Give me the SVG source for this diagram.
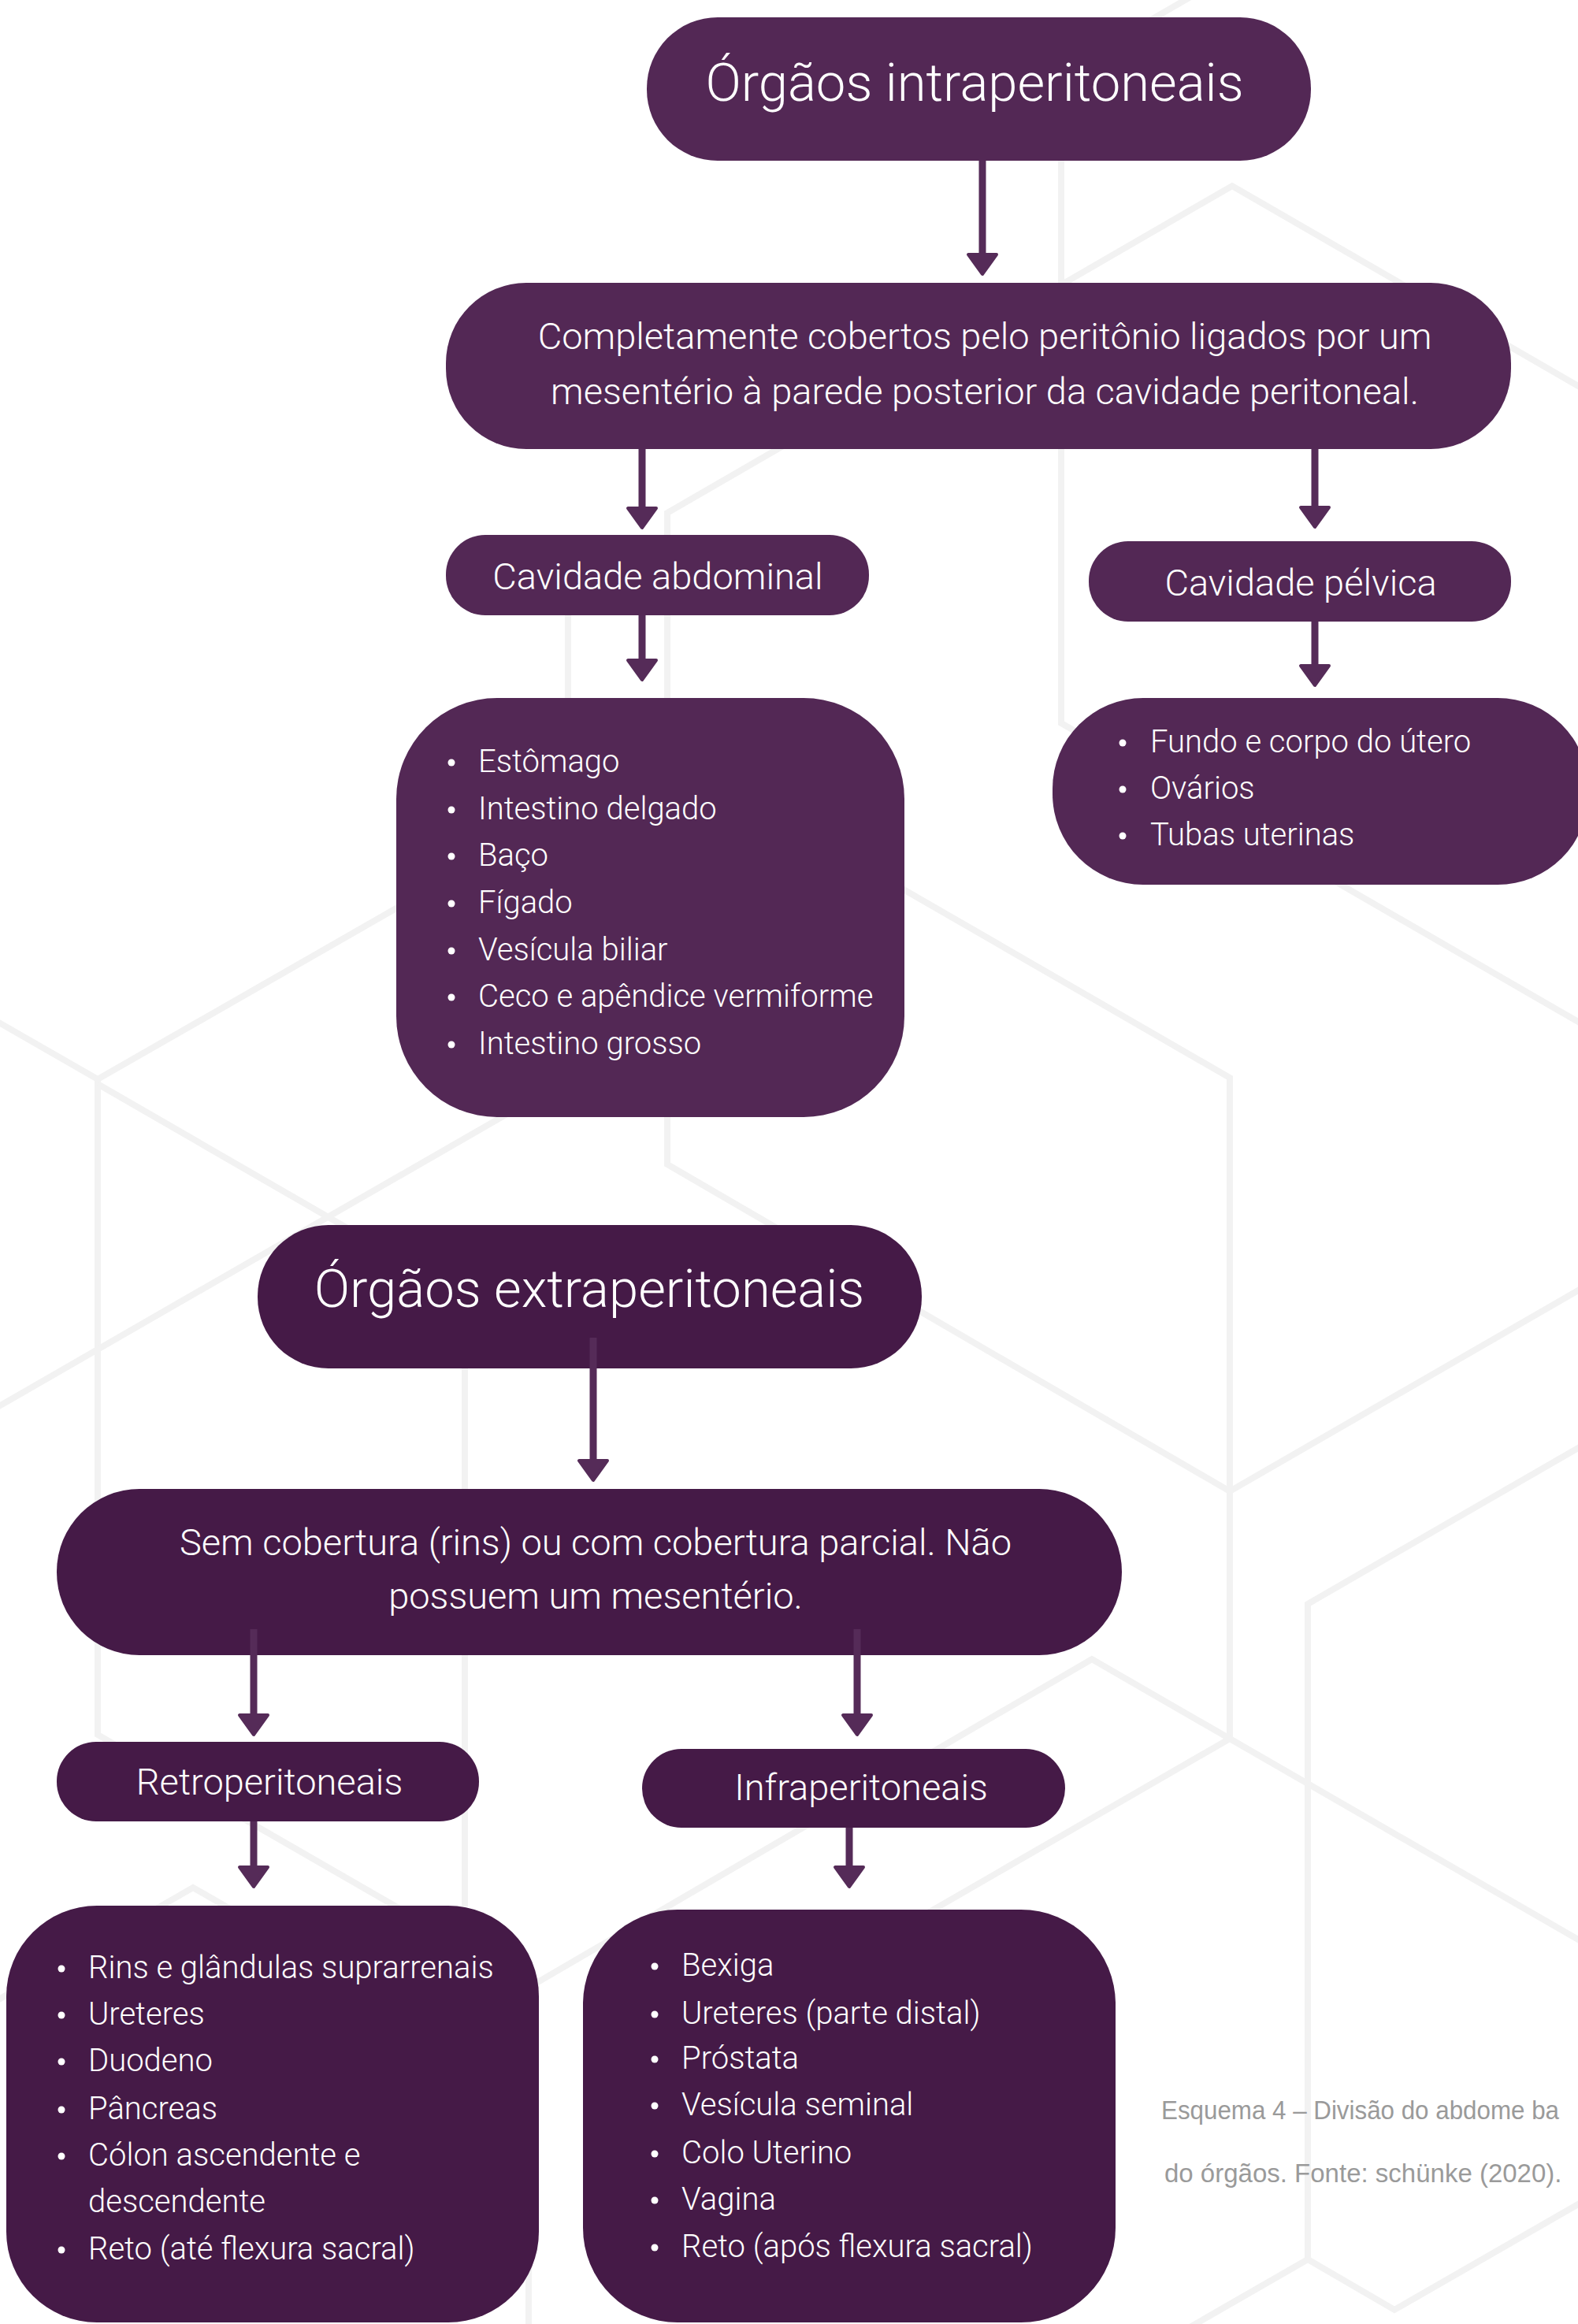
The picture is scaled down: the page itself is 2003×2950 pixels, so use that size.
<svg xmlns="http://www.w3.org/2000/svg" width="2003" height="2950" viewBox="0 0 2003 2950">
<defs>
<style>
.bg{fill:none;stroke:#f2f2f2;stroke-width:8}
.n1{fill:#532855}
.n2{fill:#451a47}
.t{font-family:Roboto,"Liberation Sans",sans-serif;font-weight:300;fill:#ffffff}
.title{font-size:67px}
.h{font-size:47px}
.li{font-size:40px}
.c{text-anchor:middle}
.b{fill:#ffffff}
.conn{fill:none;stroke:#552b58;stroke-width:9}
.cap{font-family:"Liberation Sans",Arial,sans-serif;font-size:33px;fill:#9a9a9a}
</style>
<marker id="ah" markerUnits="userSpaceOnUse" viewBox="-5 -25 40 50" markerWidth="40" markerHeight="50" refX="0" refY="0" orient="auto">
<path d="M0,-18 L25,0 L0,18 Z" fill="#552b58" stroke="#552b58" stroke-width="4" stroke-linejoin="round"/>
</marker>
</defs>
<rect x="0" y="0" width="2003" height="2950" fill="#ffffff"/>
<g id="background">
<polyline class="bg" points="1513,-5 1347,91 1347,918 2010,1301"/>
<polyline class="bg" points="2010,494 1564,236 847,651 847,1478 1561,1893 2010,1634"/>
<polyline class="bg" points="-10,1293 124,1370 847,956 1561,1368 1561,2207"/>
<polyline class="bg" points="721,700 721,1027"/>
<polyline class="bg" points="124,1370 124,2202 676,2520 1386,2106 1561,2207 2010,2466"/>
<polyline class="bg" points="124,1376 590,1645 590,2420"/>
<polyline class="bg" points="-10,1790 847,1297"/>
<polyline class="bg" points="1561,2207 1100,2473"/>
<polyline class="bg" points="2010,1834 1660,2036 1660,2868 1770,2932 2010,2794"/>
<polyline class="bg" points="1660,2868 1507,2956"/>
<polyline class="bg" points="-10,2543 245,2396 671,2642 671,2960"/>
</g>
<g id="node-intra">
<rect class="n1" x="821" y="22" width="843" height="182" rx="90"/>
<text class="t title c" x="1237" y="128">Órgãos intraperitoneais</text>
</g>
<g id="node-completamente">
<rect class="n1" x="566" y="359" width="1352" height="211" rx="102"/>
<text class="t h c"><tspan x="1250" y="443">Completamente cobertos pelo peritônio ligados por um</tspan><tspan x="1250" y="513">mesentério à parede posterior da cavidade peritoneal.</tspan></text>
</g>
<g id="node-cav-abdominal">
<rect class="n1" x="566" y="679" width="537" height="102" rx="50"/>
<text class="t h c" x="835" y="748">Cavidade abdominal</text>
</g>
<g id="node-cav-pelvica">
<rect class="n1" x="1382" y="687" width="536" height="102" rx="50"/>
<text class="t h c" x="1651" y="756">Cavidade pélvica</text>
</g>
<g id="node-lista-abdominal">
<rect class="n1" x="503" y="886" width="645" height="532" rx="128"/>
<g class="b">
<circle cx="573" cy="968" r="4.5"/><circle cx="573" cy="1028" r="4.5"/><circle cx="573" cy="1087" r="4.5"/><circle cx="573" cy="1147" r="4.5"/><circle cx="573" cy="1207" r="4.5"/><circle cx="573" cy="1266" r="4.5"/><circle cx="573" cy="1326" r="4.5"/>
</g>
<text class="t li"><tspan x="607" y="980">Estômago</tspan><tspan x="607" y="1040">Intestino delgado</tspan><tspan x="607" y="1099">Baço</tspan><tspan x="607" y="1159">Fígado</tspan><tspan x="607" y="1219">Vesícula biliar</tspan><tspan x="607" y="1278">Ceco e apêndice vermiforme</tspan><tspan x="607" y="1338">Intestino grosso</tspan></text>
</g>
<g id="node-lista-pelvica">
<rect class="n1" x="1336" y="886" width="680" height="237" rx="115"/>
<g class="b">
<circle cx="1425" cy="943" r="4.5"/><circle cx="1425" cy="1002" r="4.5"/><circle cx="1425" cy="1061" r="4.5"/>
</g>
<text class="t li"><tspan x="1460" y="955">Fundo e corpo do útero</tspan><tspan x="1460" y="1014">Ovários</tspan><tspan x="1460" y="1073">Tubas uterinas</tspan></text>
</g>
<g id="node-extra">
<rect class="n2" x="327" y="1555" width="843" height="182" rx="90"/>
<text class="t title c" x="748" y="1659">Órgãos extraperitoneais</text>
</g>
<g id="node-sem-cobertura">
<rect class="n2" x="72" y="1890" width="1352" height="211" rx="105"/>
<text class="t h c"><tspan x="756" y="1974">Sem cobertura (rins) ou com cobertura parcial. Não</tspan><tspan x="756" y="2042">possuem um mesentério.</tspan></text>
</g>
<g id="node-retro">
<rect class="n2" x="72" y="2211" width="536" height="101" rx="50"/>
<text class="t h c" x="342" y="2278">Retroperitoneais</text>
</g>
<g id="node-infra">
<rect class="n2" x="815" y="2220" width="537" height="100" rx="50"/>
<text class="t h c" x="1093" y="2285">Infraperitoneais</text>
</g>
<g id="node-lista-retro">
<rect class="n2" x="8" y="2419" width="676" height="529" rx="115"/>
<g class="b">
<circle cx="78" cy="2499" r="4.5"/><circle cx="78" cy="2558" r="4.5"/><circle cx="78" cy="2617" r="4.5"/><circle cx="78" cy="2678" r="4.5"/><circle cx="78" cy="2737" r="4.5"/><circle cx="78" cy="2856" r="4.5"/>
</g>
<text class="t li"><tspan x="112" y="2511">Rins e glândulas suprarrenais</tspan><tspan x="112" y="2570">Ureteres</tspan><tspan x="112" y="2629">Duodeno</tspan><tspan x="112" y="2690">Pâncreas</tspan><tspan x="112" y="2749">Cólon ascendente e</tspan><tspan x="112" y="2808">descendente</tspan><tspan x="112" y="2868">Reto (até flexura sacral)</tspan></text>
</g>
<g id="node-lista-infra">
<rect class="n2" x="740" y="2424" width="676" height="524" rx="120"/>
<g class="b">
<circle cx="831" cy="2496" r="4.5"/><circle cx="831" cy="2557" r="4.5"/><circle cx="831" cy="2614" r="4.5"/><circle cx="831" cy="2673" r="4.5"/><circle cx="831" cy="2734" r="4.5"/><circle cx="831" cy="2793" r="4.5"/><circle cx="831" cy="2853" r="4.5"/>
</g>
<text class="t li"><tspan x="865" y="2508">Bexiga</tspan><tspan x="865" y="2569">Ureteres (parte distal)</tspan><tspan x="865" y="2626">Próstata</tspan><tspan x="865" y="2685">Vesícula seminal</tspan><tspan x="865" y="2746">Colo Uterino</tspan><tspan x="865" y="2805">Vagina</tspan><tspan x="865" y="2865">Reto (após flexura sacral)</tspan></text>
</g>
<g id="connectors">
<line class="conn" x1="1247" y1="204" x2="1247" y2="323" marker-end="url(#ah)"/>
<line class="conn" x1="815" y1="570" x2="815" y2="645" marker-end="url(#ah)"/>
<line class="conn" x1="1669" y1="570" x2="1669" y2="644" marker-end="url(#ah)"/>
<line class="conn" x1="815" y1="781" x2="815" y2="838" marker-end="url(#ah)"/>
<line class="conn" x1="1669" y1="789" x2="1669" y2="845" marker-end="url(#ah)"/>
<line class="conn" x1="753" y1="1698" x2="753" y2="1854" marker-end="url(#ah)"/>
<line class="conn" x1="322" y1="2068" x2="322" y2="2177" marker-end="url(#ah)"/>
<line class="conn" x1="1088" y1="2068" x2="1088" y2="2177" marker-end="url(#ah)"/>
<line class="conn" x1="322" y1="2312" x2="322" y2="2370" marker-end="url(#ah)"/>
<line class="conn" x1="1078" y1="2320" x2="1078" y2="2370" marker-end="url(#ah)"/>
</g>
<g id="caption">
<text class="cap" x="1474" y="2690" textLength="505" lengthAdjust="spacingAndGlyphs">Esquema 4 – Divisão do abdome ba</text>
<text class="cap" x="1478" y="2770">do órgãos. Fonte: schünke (2020).</text>
</g>
</svg>
